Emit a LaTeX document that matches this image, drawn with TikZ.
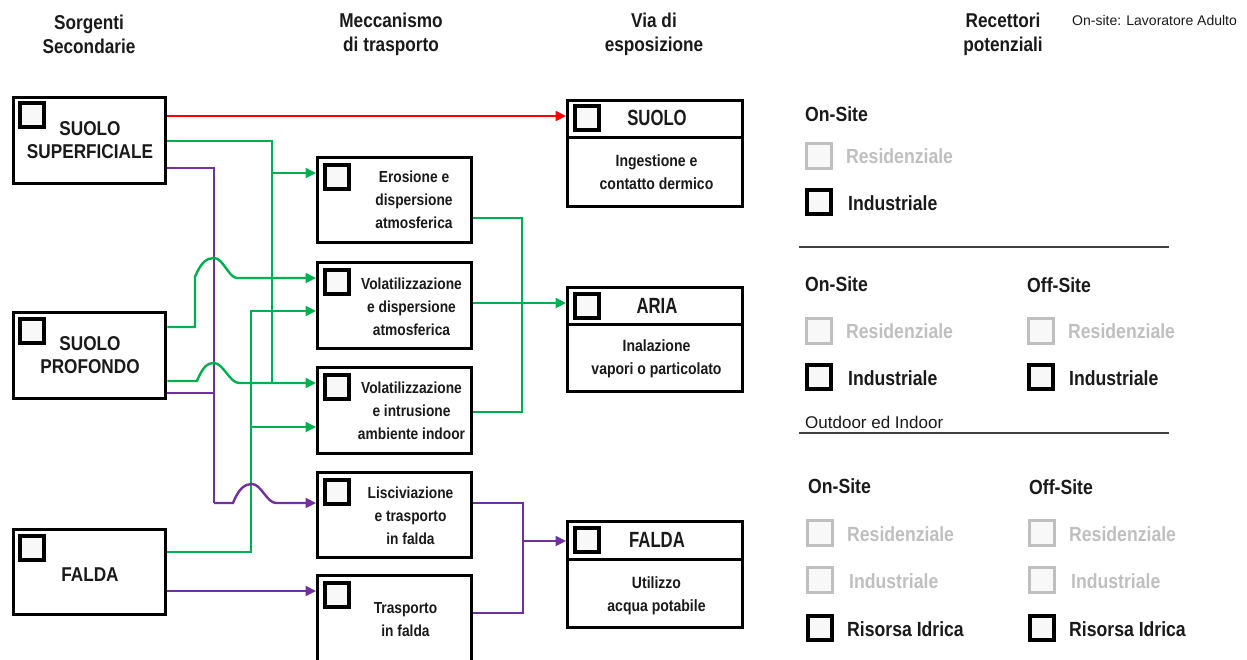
\documentclass[tikz,border=0pt]{standalone}
\usepackage{fontspec}
\setmainfont{Liberation Sans}[FakeStretch=0.86]
\newfontfamily\hdfont{Liberation Sans}[FakeStretch=0.76]
\newfontfamily\plainfont{Liberation Sans}
\usetikzlibrary{arrows.meta}
\definecolor{cgreen}{HTML}{00B050}
\definecolor{cpurple}{HTML}{7030A0}
\definecolor{cred}{HTML}{FF0000}
\definecolor{cgrey}{HTML}{BFBFBF}
\definecolor{cfill}{HTML}{F8F8F8}
\definecolor{ctext}{HTML}{1A1A1A}
\begin{document}
\begin{tikzpicture}[x=1pt,y=-1pt,
  box/.style={draw=black,line width=3.3pt,rectangle,anchor=north west,inner sep=0pt,fill=white},
  chk/.style={draw=black,line width=4pt,fill=cfill,minimum width=24pt,minimum height=23.5pt,anchor=north west,inner sep=0pt},
  gchk/.style={draw=cgrey,line width=3pt,fill=cfill,minimum width=25pt,minimum height=24.5pt,anchor=north west,inner sep=0pt},
  hdr/.style={align=center,inner sep=0pt,text=ctext,font=\fontsize{20}{24}\selectfont\bfseries},
  srctxt/.style={align=center,inner sep=0pt,text=ctext,font=\fontsize{20}{23}\selectfont\bfseries},
  midtxt/.style={align=center,inner sep=0pt,text=ctext,font=\fontsize{16}{23}\selectfont\bfseries},
  exphdr/.style={inner sep=0pt,text=ctext,font=\hdfont\fontsize{22}{26}\selectfont\bfseries},
  expbody/.style={align=center,inner sep=0pt,text=ctext,font=\fontsize{16.3}{23}\selectfont\bfseries},
  ptxt/.style={anchor=base west,inner sep=0pt,text=ctext,font=\fontsize{20.5}{24}\selectfont\bfseries},
  gtxt/.style={ptxt,text=cgrey},
  note/.style={anchor=base west,inner sep=0pt,text=ctext},
  conn/.style={line width=2.4pt},
  arr/.style={conn,-{Triangle[length=10.5pt,width=10pt]}},
  sep/.style={line width=1.5pt,draw=black!75}
]
\useasboundingbox (0,0) rectangle (1247,659);

% headers
\node[hdr] (h1) at (89,34) {Sorgenti\\Secondarie};
\node[hdr] (h2) at (391,34) {Meccanismo\\di trasporto};
\node[hdr] (h3) at (654,34) {Via di\\esposizione};
\node[hdr] (h4) at (1003,34) {Recettori\\potenziali};
\node[note,font=\plainfont\fontsize{14}{16}\selectfont] (h5) at (1072,25) {On-site: Lavoratore Adulto};

% source boxes
\node[box,minimum width=152pt,minimum height=86pt] (ss) at (12,96) {};
\node[box,minimum width=152pt,minimum height=86pt] (sp) at (12,311) {};
\node[box,minimum width=152pt,minimum height=85pt] (fa) at (12,528) {};
\node[chk] (ssc) at (18,101) {};
\node[chk] (spc) at (18,317) {};
\node[chk] (fac) at (18,534) {};
\node[srctxt] (sst) at (90,140) {SUOLO\\SUPERFICIALE};
\node[srctxt] (spt) at (90,355) {SUOLO\\PROFONDO};
\node[srctxt] (fat) at (90,575) {FALDA};

% transport boxes
\node[box,minimum width=154pt,minimum height=85.5pt] (b1) at (316,155.5) {};
\node[box,minimum width=154pt,minimum height=86pt] (b2) at (316,260.5) {};
\node[box,minimum width=154pt,minimum height=86.5pt] (b3) at (316,365.5) {};
\node[box,minimum width=154pt,minimum height=85.5pt] (b4) at (316,470.5) {};
\node[box,minimum width=154pt,minimum height=90pt] (b5) at (316,574) {};
\node[chk] (b1c) at (323,163) {};
\node[chk] (b2c) at (323,268) {};
\node[chk] (b3c) at (323,373) {};
\node[chk] (b4c) at (323,478) {};
\node[chk] (b5c) at (323,581) {};
\node[midtxt] (b1t) at (414,200) {Erosione e\\dispersione\\atmosferica};
\node[midtxt] (b2t) at (411.5,306.5) {Volatilizzazione\\e dispersione\\atmosferica};
\node[midtxt] (b3t) at (411.5,410.5) {Volatilizzazione\\e intrusione\\ambiente indoor};
\node[midtxt] (b4t) at (410.5,516) {Lisciviazione\\e trasporto\\in falda};
\node[midtxt] (b5t) at (405.5,620) {Trasporto\\in falda};

% exposure boxes
\node[box,minimum width=175pt,minimum height=106pt] (r1) at (566,98.5) {};
\node[box,minimum width=175pt,minimum height=104.5pt] (r2) at (566,285.5) {};
\node[box,minimum width=175pt,minimum height=106pt] (r3) at (566,519.5) {};
\draw[line width=3.3pt] (r1.west |- 0,137.5) -- (r1.east |- 0,137.5);
\draw[line width=3.3pt] (r2.west |- 0,324.5) -- (r2.east |- 0,324.5);
\draw[line width=3.3pt] (r3.west |- 0,559.5) -- (r3.east |- 0,559.5);
\node[chk] (r1c) at (573,104) {};
\node[chk] (r2c) at (573,292) {};
\node[chk] (r3c) at (573,526) {};
\node[exphdr] (r1h) at (657,118) {SUOLO};
\node[exphdr] (r2h) at (657,306) {ARIA};
\node[exphdr] (r3h) at (657,540) {FALDA};
\node[expbody] (r1t) at (656.5,172) {Ingestione e\\contatto dermico};
\node[expbody] (r2t) at (656.5,359) {Inalazione\\vapori o particolato};
\node[expbody] (r3t) at (656.5,595.5) {Utilizzo\\acqua potabile};

% connectors: red
\draw[arr,cred] (ss.east |- 0,116) -- (r1.west |- 0,116);
% green from suolo superficiale
\draw[conn,cgreen] (ss.east |- 0,141) -- (272,141) -- (272,383);
\draw[arr,cgreen] (272,173) -- (b1.west |- 0,173);
% purple from suolo superficiale / profondo
\draw[conn,cpurple] (ss.east |- 0,168) -- (214,168) -- (214,503);
\draw[conn,cpurple] (sp.east |- 0,393) -- (214,393);
% green from suolo profondo (with hops)
\draw[arr,cgreen] (sp.east |- 0,327) -- (195,327) -- (195,277)
  .. controls (201,262) and (207,258) .. (214,258)
  .. controls (223,258) and (229,278) .. (237,278) -- (b2.west |- 0,278);
\draw[arr,cgreen] (sp.east |- 0,381) -- (197,381)
  .. controls (203,366) and (208,363) .. (214,363)
  .. controls (223,363) and (230,383) .. (239,383) -- (b3.west |- 0,383);
% green from falda
\draw[arr,cgreen] (fa.east |- 0,552) -- (251,552) -- (251,311) -- (b2.west |- 0,311);
\draw[arr,cgreen] (251,427) -- (b3.west |- 0,427);
% purple from falda, hop over green
\draw[arr,cpurple] (214,503) -- (233,503)
  .. controls (239,488) and (245,484) .. (252,484)
  .. controls (261,484) and (267,503) .. (276,503) -- (b4.west |- 0,503);
\draw[arr,cpurple] (fa.east |- 0,591) -- (b5.west |- 0,591);
% transport -> exposure
\draw[conn,cgreen] (b1.east |- 0,218) -- (522,218) -- (522,412) -- (b3.east |- 0,412);
\draw[arr,cgreen] (b2.east |- 0,303) -- (r2.west |- 0,303);
\draw[conn,cpurple] (b4.east |- 0,503) -- (523,503) -- (523,613) -- (b5.east |- 0,613);
\draw[arr,cpurple] (523,541) -- (r3.west |- 0,541);

% receptors panel
\node[ptxt] (s1on) at (805,121) {On-Site};
\node[gchk] (s1rc) at (805,142) {};
\node[gtxt] (s1rt) at (846,163) {Residenziale};
\node[chk] (s1ic) at (805,188) {};
\node[ptxt] (s1it) at (848,210) {Industriale};
\draw[sep] (799,247) -- (1169,247);

\node[ptxt] (s2on) at (805,291) {On-Site};
\node[ptxt] (s2off) at (1027,292) {Off-Site};
\node[gchk] (s2rc) at (805,317) {};
\node[gtxt] (s2rt) at (846,338) {Residenziale};
\node[gchk] (s2orc) at (1027,317) {};
\node[gtxt] (s2ort) at (1068,338) {Residenziale};
\node[chk] (s2ic) at (805,363) {};
\node[ptxt] (s2it) at (848,385) {Industriale};
\node[chk] (s2oic) at (1027,363) {};
\node[ptxt] (s2oit) at (1069,385) {Industriale};
\node[note,font=\plainfont\fontsize{17}{20}\selectfont] (od) at (805,428) {Outdoor ed Indoor};
\draw[sep] (799,433) -- (1169,433);

\node[ptxt] (s3on) at (808,493) {On-Site};
\node[ptxt] (s3off) at (1029,494) {Off-Site};
\node[gchk] (s3rc) at (806,519) {};
\node[gtxt] (s3rt) at (847,541) {Residenziale};
\node[gchk] (s3orc) at (1028,519) {};
\node[gtxt] (s3ort) at (1069,541) {Residenziale};
\node[gchk] (s3ic) at (806,566) {};
\node[gtxt] (s3it) at (849,588) {Industriale};
\node[gchk] (s3oic) at (1028,566) {};
\node[gtxt] (s3oit) at (1071,588) {Industriale};
\node[chk] (s3wc) at (806,614) {};
\node[ptxt] (s3wt) at (847,636) {Risorsa Idrica};
\node[chk] (s3owc) at (1028,614) {};
\node[ptxt] (s3owt) at (1069,636) {Risorsa Idrica};
\end{tikzpicture}
\end{document}
